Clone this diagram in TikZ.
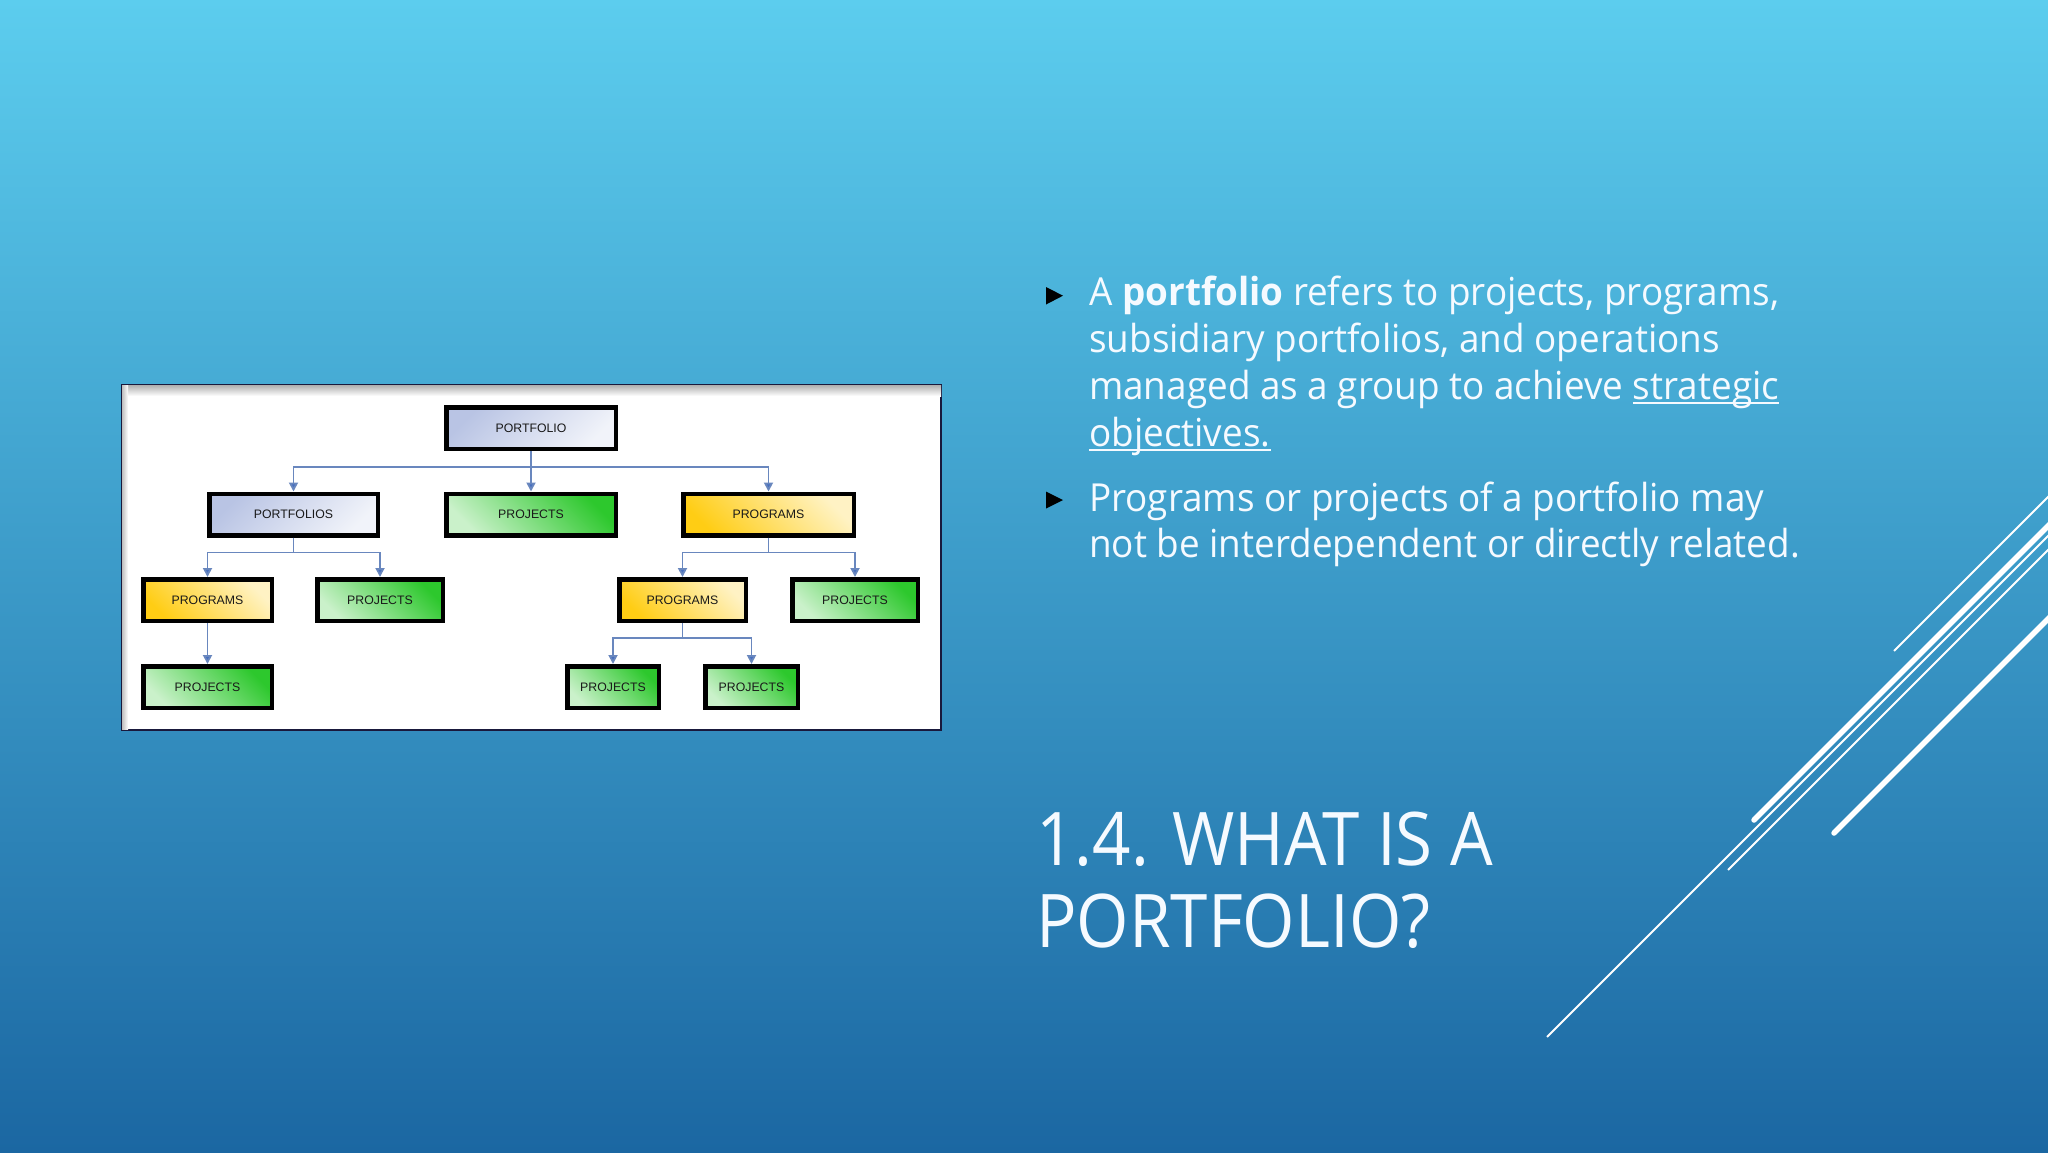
\documentclass[tikz,border=0pt]{standalone}
\usepackage{fontspec}
\usetikzlibrary{arrows.meta}
\newfontfamily\bodyfont[FakeStretch=0.955]{Open Sans}
\newfontfamily\titlefont[FakeStretch=0.91]{Open Sans}
\newfontfamily\boxfont{Liberation Sans}
\definecolor{bgtop}{RGB}{92,205,238}
\definecolor{bgbot}{RGB}{27,103,162}
\definecolor{conncol}{RGB}{105,135,190}
\definecolor{arrcol}{RGB}{70,110,190}
\definecolor{grn}{RGB}{45,200,45}
\definecolor{ylw}{RGB}{255,205,20}
\definecolor{blu}{RGB}{185,196,228}
\definecolor{txtw}{RGB}{245,250,255}
\definecolor{framecol}{RGB}{25,25,60}
\newcommand\myul[1]{\setbox0\hbox{#1}\rlap{\rule[-5pt]{\wd0}{2pt}}\box0}
\begin{document}
\begin{tikzpicture}[x=1pt,y=-1pt,
  orgbox/.style={draw=black, line width=4.5pt, minimum height=41.5pt, inner sep=0pt,
    font=\boxfont\fontsize{12.3}{14}\selectfont, text=black!90},
  bluebox/.style={orgbox, shading=axis, top color=blu, bottom color=blu!20!white, shading angle=45},
  greenbox/.style={orgbox, shading=axis, top color=grn, middle color=grn!85!white, bottom color=grn!25!white, shading angle=-45},
  yellowbox/.style={orgbox, shading=axis, top color=ylw!25!white, middle color=ylw!88!white, bottom color=ylw, shading angle=-45},
  conn/.style={draw=conncol, line width=1.8pt, -{Triangle[width=9pt,length=9pt,fill=arrcol]}},
  btext/.style={anchor=base west, inner sep=0pt, text=txtw, font=\bodyfont\fontsize{38.6}{46}\selectfont},
  ttext/.style={anchor=base west, inner sep=0pt, text=txtw, font=\titlefont\fontsize{74}{82}\selectfont},
  decothin/.style={draw=white, line width=2pt},
  decothick/.style={draw=white, line width=5.5pt, line cap=round}
]
\useasboundingbox (0,0) rectangle (2048,1152);
\shade[top color=bgtop, bottom color=bgbot] (0,0) rectangle (2048,1152);

% diagram frame
\node[draw=framecol, fill=white, line width=2.5pt, minimum width=818.5pt, minimum height=344.5pt, inner sep=0pt] (frame) at (531.5,557.5) {};
\shade[top color=black!30, bottom color=white] (122,385.5) rectangle (941,396);
\shade[left color=black!25, right color=white] (122,385.5) rectangle (128,729.5);

% boxes
\node[bluebox, minimum width=169.5pt] (pf) at (531,428) {PORTFOLIO};
\node[bluebox, minimum width=168.5pt] (pfs) at (293.5,514.5) {PORTFOLIOS};
\node[greenbox, minimum width=169.5pt] (pj1) at (531,514.5) {PROJECTS};
\node[yellowbox, minimum width=170.5pt] (pg1) at (768.5,514.5) {PROGRAMS};
\node[yellowbox, minimum width=128.5pt] (pg2) at (207.5,600) {PROGRAMS};
\node[greenbox, minimum width=125.5pt] (pj2) at (380,600) {PROJECTS};
\node[yellowbox, minimum width=126.5pt] (pg3) at (682.5,600) {PROGRAMS};
\node[greenbox, minimum width=125.5pt] (pj3) at (855,600) {PROJECTS};
\node[greenbox, minimum width=128.5pt] (pj4) at (207.5,687) {PROJECTS};
\node[greenbox, minimum width=91.5pt] (pj5) at (613,687) {PROJECTS};
\node[greenbox, minimum width=92.5pt] (pj6) at (751.5,687) {PROJECTS};

% connectors
\draw[conn] (pf.south) -- ++(0,16) -| (pfs.north);
\draw[conn] (pf.south) -- (pj1.north);
\draw[conn] (pf.south) -- ++(0,16) -| (pg1.north);
\draw[conn] (pfs.south) -- ++(0,15) -| (pg2.north);
\draw[conn] (pfs.south) -- ++(0,15) -| (pj2.north);
\draw[conn] (pg1.south) -- ++(0,15) -| (pg3.north);
\draw[conn] (pg1.south) -- ++(0,15) -| (pj3.north);
\draw[conn] (pg2.south) -- (pj4.north);
\draw[conn] (pg3.south) -- ++(0,15) -| (pj5.north);
\draw[conn] (pg3.south) -- ++(0,15) -| (pj6.north);

% bullets
\fill[black] (1046,287) -- (1063,295.7) -- (1046,304.5) -- cycle;
\fill[black] (1046,491.5) -- (1063,500) -- (1046,508.5) -- cycle;
\node[btext] (l1) at (1089,305.5) {A \textbf{portfolio} refers to projects, programs,};
\node[btext] (l2) at (1089,352.5) {subsidiary portfolios, and operations};
\node[btext] (l3) at (1089,399.3) {managed as a group to achieve \myul{strategic}};
\node[btext] (l4) at (1089,446) {\myul{objectives.}};
\node[btext] (l5) at (1089,511) {Programs or projects of a portfolio may};
\node[btext] (l6) at (1089,557.7) {not be interdependent or directly related.};

% title
\node[ttext] (t1) at (1036,865) {1.4. WHAT IS A};
\node[ttext] (t2) at (1036,947) {PORTFOLIO?};

% decorative lines
\begin{scope}
\clip (0,0) rectangle (2048,1152);
\draw[decothin] (1894,651) -- (2062,483);
\draw[decothick] (1754,820) -- (2062,512);
\draw[decothin] (1547,1037) -- (2062,522);
\draw[decothin] (1728,870) -- (2062,536);
\draw[decothick] (1834,833) -- (2062,605);
\end{scope}
\end{tikzpicture}
\end{document}
